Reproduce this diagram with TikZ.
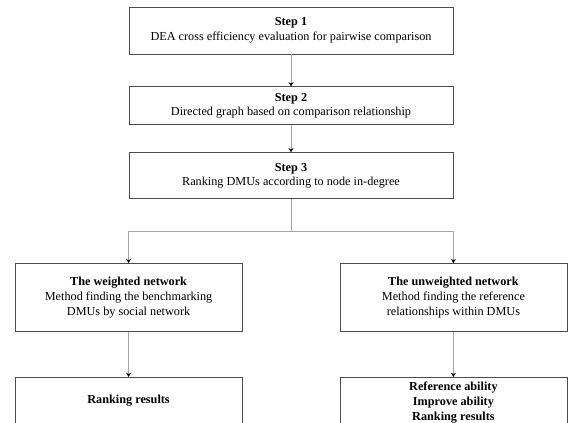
\documentclass[tikz,border=0pt]{standalone}
\usepackage{fontspec}
\setmainfont{Liberation Serif}
\usetikzlibrary{arrows.meta, positioning}

\begin{document}
\begin{tikzpicture}[
    every node/.style={font=\fontsize{8.7}{10.5}\selectfont},
    stepblock/.style={rectangle, draw=black!70, line width=0.6pt, align=center, minimum width=8.1cm, minimum height=1.175cm},
    netblock/.style={rectangle, draw=black!70, line width=0.6pt, align=center, minimum width=5.675cm, minimum height=1.7cm},
    resultblock/.style={rectangle, draw=black!70, line width=0.6pt, align=center, minimum width=5.675cm, minimum height=1.15cm},
    link/.style={draw=black!35, line width=0.6pt},
    arrow/.style={link, -{Stealth[length=3pt, width=3.5pt, black]}}
]
\useasboundingbox (0,0) rectangle (14.2,-10.55);

\node[stepblock] (step1) at (7.275,-0.7625) {\textbf{Step 1}\\DEA cross efficiency evaluation for pairwise comparison};
\node[stepblock, minimum height=0.95cm, below=0.8cm of step1] (step2) {\textbf{Step 2}\\Directed graph based on comparison relationship};
\node[stepblock, minimum height=1.15cm, below=0.675cm of step2] (step3) {\textbf{Step 3}\\Ranking DMUs according to node in-degree};

\coordinate[below=0.8cm of step3] (split);

\node[netblock, below=1.6cm of step3.south west] (weighted) {\textbf{The weighted network}\\Method finding the benchmarking\\DMUs by social network};
\node[netblock, below=1.6cm of step3.south east] (unweighted) {\textbf{The unweighted network}\\Method finding the reference\\relationships within DMUs};

\node[resultblock, below=1.125cm of weighted] (rankw) {\textbf{Ranking results}};
\node[resultblock, below=1.125cm of unweighted] (ranku) {\textbf{Reference ability}\\\textbf{Improve ability}\\\textbf{Ranking results}};

\draw[arrow] (step1) -- (step2);
\draw[arrow] (step2) -- (step3);
\draw[link] (step3) -- (split);
\draw[arrow] (split) -| (weighted);
\draw[arrow] (split) -| (unweighted);
\draw[arrow] (weighted) -- (rankw);
\draw[arrow] (unweighted) -- (ranku);

\end{tikzpicture}
\end{document}
